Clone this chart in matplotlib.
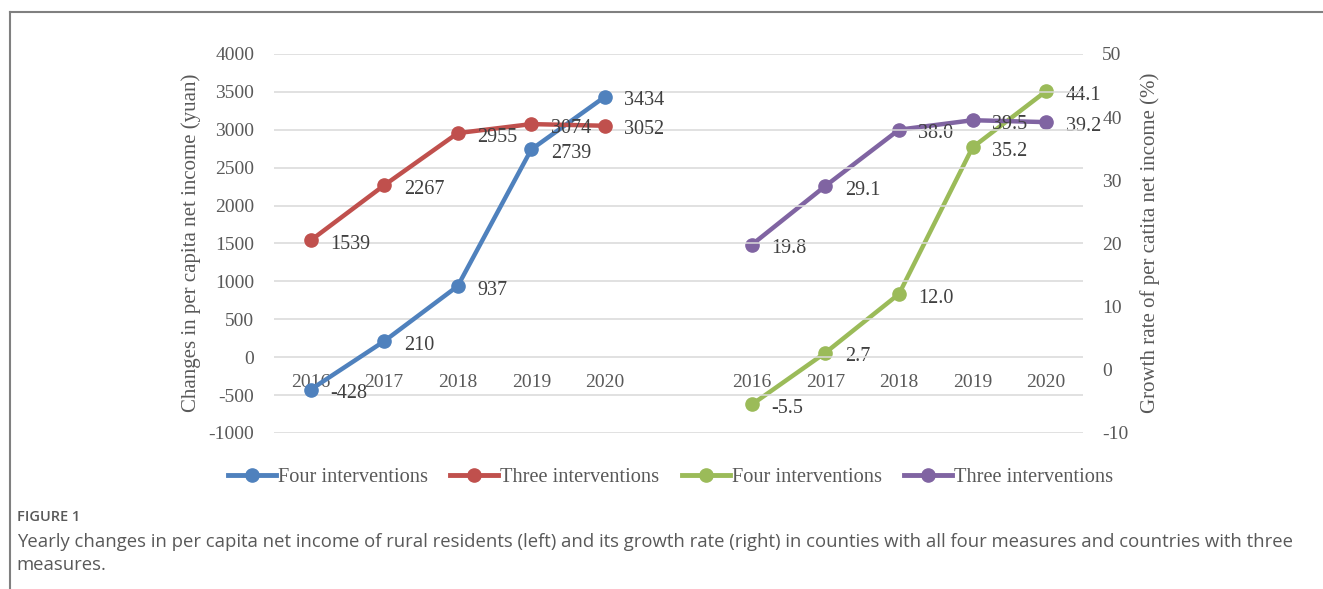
import matplotlib.pyplot as plt
from matplotlib.lines import Line2D

years = ["2016", "2017", "2018", "2019", "2020"]
income_four = [-428, 210, 937, 2739, 3434]
income_three = [1539, 2267, 2955, 3074, 3052]
growth_four = [-5.5, 2.7, 12.0, 35.2, 44.1]
growth_three = [19.8, 29.1, 38.0, 39.5, 39.2]

colors = {
    "blue": "#4F81BD",
    "red": "#C0504D",
    "green": "#9BBB59",
    "purple": "#8064A2",
}
grey = "#595959"
serif = ["Liberation Serif", "DejaVu Serif"]
plt.rcParams["axes.unicode_minus"] = False

fig = plt.figure(figsize=(13.23, 5.89), dpi=100)
ax = fig.add_axes([0.207, 0.265, 0.6115, 0.6435])
ax2 = ax.twinx()

left_x = list(range(len(years)))
right_x = [i + len(years) + 1 for i in range(len(years))]

line_kw = dict(lw=3.2, marker="o", ms=9.5, solid_capstyle="round")
ax.plot(left_x, income_four, color=colors["blue"], **line_kw)
ax.plot(left_x, income_three, color=colors["red"], **line_kw)
ax2.plot(right_x, growth_four, color=colors["green"], **line_kw)
ax2.plot(right_x, growth_three, color=colors["purple"], **line_kw)

lab_kw = dict(textcoords="offset points", xytext=(14, -3), ha="left", va="center",
              fontsize=14.5, color="#404040", family=serif)
for x, v in zip(left_x, income_four):
    ax.annotate(f"{v}", (x, v), **lab_kw)
for x, v in zip(left_x, income_three):
    ax.annotate(f"{v}", (x, v), **lab_kw)
for x, v in zip(right_x, growth_four):
    ax2.annotate(f"{v:.1f}", (x, v), **lab_kw)
for x, v in zip(right_x, growth_three):
    ax2.annotate(f"{v:.1f}", (x, v), **lab_kw)

ax.set_xlim(-0.5, 10.5)
ax.set_ylim(-1000, 4000)
ax.set_yticks(range(-1000, 4001, 500))
ax2.set_ylim(-10, 50)
ax2.set_yticks(range(-10, 51, 10))

ax.set_xticks(left_x + right_x)
ax.set_xticklabels(years + years)
ax.spines["bottom"].set_position(("data", 0))
for a in (ax, ax2):
    for s in a.spines.values():
        s.set_visible(False)
ax.tick_params(axis="x", length=0, pad=12, labelsize=14, labelcolor=grey)
ax.tick_params(axis="y", length=0, pad=14, labelsize=14, labelcolor=grey)
ax2.tick_params(axis="y", length=0, pad=14, labelsize=14, labelcolor=grey)
for t in ax.get_xticklabels() + ax.get_yticklabels() + ax2.get_yticklabels():
    t.set_family(serif)

ax.grid(axis="y", color="#D9D9D9", lw=1.1)
ax.set_axisbelow(True)
ax.set_zorder(ax2.get_zorder() + 1)
ax.patch.set_visible(False)

fig.text(0.1445, 0.587, "Changes in per capita net income (yuan)", rotation=90,
         ha="center", va="center", fontsize=15, color=grey, family=serif)
fig.text(0.8695, 0.5874, "Growth rate of per catita net income (%)", rotation=90,
         ha="center", va="center", fontsize=15, color=grey, family=serif)

handles = [Line2D([], [], color=colors[c], lw=3.5, marker="o", ms=9.5)
           for c in ("blue", "red", "green", "purple")]
labels = ["Four interventions", "Three interventions", "Four interventions", "Three interventions"]
leg = fig.legend(handles, labels, loc="center", bbox_to_anchor=(0.507, 0.19), ncol=4,
                 frameon=False, handlelength=2.35, handletextpad=0.1, columnspacing=1.1,
                 prop={"family": serif, "size": 14.7})
for t in leg.get_texts():
    t.set_color(grey)

# frame lines of the page
fig.add_artist(Line2D([0.0072, 0.0072], [0, 0.98], color="#808080", lw=1.5))
fig.add_artist(Line2D([0.0072, 1.0], [0.98, 0.98], color="#808080", lw=1.5))

fig.text(0.0125, 0.122, "FIGURE 1", fontsize=10.5, color=grey, family="Open Sans",
         fontweight="semibold", va="center")
fig.text(0.0125, 0.0795,
         "Yearly changes in per capita net income of rural residents (left) and its growth rate (right) "
         "in counties with all four measures and countries with three",
         fontsize=13.3, color=grey, family="Open Sans", va="center")
fig.text(0.0125, 0.0405, "measures.", fontsize=13.3, color=grey, family="Open Sans", va="center")

fig.savefig("out.png", dpi=100)
